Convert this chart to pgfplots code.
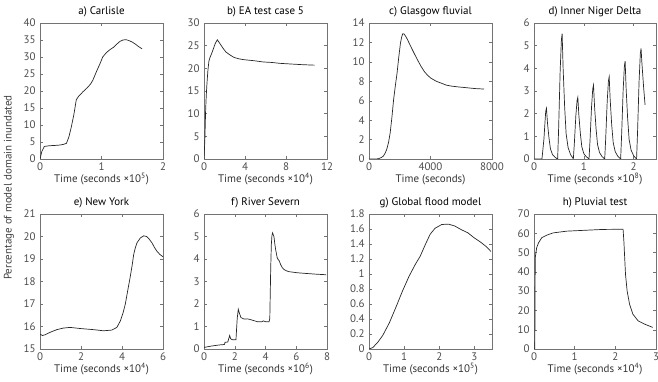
\documentclass[border=0pt]{standalone}
\usepackage{fontspec}
\setmainfont{PT Sans}
\usepackage{pgfplots}
\pgfplotsset{compat=1.18}
\pgfplotsset{
  panel/.style={
    scale only axis, width=123bp, anchor=south west,
    axis line style={black!55, line width=0.5bp},
    tick style={black!55, line width=0.4bp},
    major tick length=3bp,
    tick align=inside,
    xtick pos=both, ytick pos=both,
    xticklabel pos=bottom, yticklabel pos=left,
    scaled ticks=false,
    /pgf/number format/1000 sep={},
    /pgf/number format/assume math mode=true,
    tick label style={font=\fontsize{11}{13}\selectfont, text=black!70},
    xticklabel style={anchor=base, yshift=-11.5bp},
    yticklabel style={xshift=-1bp},
    title style={font=\fontsize{11}{13}\selectfont, at={(0.5,1)}, anchor=base, yshift=3bp},
    xlabel style={font=\fontsize{11}{13}\selectfont, text=black!80, at={(0.5,0)}, anchor=base, yshift=-23.5bp},
    every axis plot post/.append style={black!85, line width=0.7bp, mark=none, solid},
  },
  toprow/.style={panel, height=136bp},
  botrow/.style={panel, height=135bp},
}
\begin{document}
\begin{tikzpicture}
\path[use as bounding box] (0,0) rectangle (658bp,382bp);
\node[rotate=90, font=\fontsize{11}{13}\selectfont, text=black!75] at (9bp,194.5bp) {Percentage of model domain inundated};

% a) Carlisle
\begin{axis}[toprow, at={(40bp,223bp)}, xmin=0, xmax=2, ymin=0, ymax=40,
  xtick={0,1,2}, ytick={0,5,...,40},
  title={a) Carlisle}, xlabel={Time (seconds ×10\textsuperscript{5})}]
\addplot coordinates {(0,0) (0.03,2.2) (0.07,3.7) (0.15,3.9) (0.25,4.0) (0.32,4.1) (0.38,4.3) (0.43,4.6) (0.47,6.5) (0.51,9.5) (0.55,13) (0.59,17.4) (0.63,18.5) (0.7,19.8) (0.76,20.8) (0.82,22) (0.86,23.2) (0.92,25.8) (0.97,27.8) (1.02,30) (1.08,31.3) (1.14,32.2) (1.2,32.9) (1.25,33.8) (1.3,34.6) (1.35,35.0) (1.4,35.1) (1.45,34.8) (1.5,34.4) (1.55,33.8) (1.6,33.1) (1.66,32.4)};
\end{axis}

% b) EA test case 5
\begin{axis}[toprow, at={(204bp,223bp)}, xmin=0, xmax=12, ymin=0, ymax=30,
  xtick={0,4,8,12}, ytick={0,5,...,30},
  title={b) EA test case 5}, xlabel={Time (seconds ×10\textsuperscript{4})}]
\addplot coordinates {(0,0) (0.08,4) (0.16,10.8) (0.22,14) (0.29,16.7) (0.38,19.5) (0.48,21.6) (0.6,22.5) (0.7,23) (0.93,24.4) (1.1,25.5) (1.3,26.3) (1.45,25.8) (1.66,25.1) (1.9,24.3) (2.14,23.6) (2.5,23) (2.94,22.4) (3.4,22.1) (3.9,21.9) (4.8,21.7) (5.8,21.4) (6.6,21.3) (7.4,21.1) (8.5,20.95) (9.66,20.8) (10.8,20.7)};
\end{axis}

% c) Glasgow fluvial
\begin{axis}[toprow, at={(369bp,223bp)}, xmin=0, xmax=8000, ymin=0, ymax=14,
  xtick={0,4000,8000}, ytick={0,2,...,14},
  title={c) Glasgow fluvial}, xlabel={Time (seconds)}]
\addplot coordinates {(0,0) (300,0) (600,0.02) (800,0.15) (933,0.3) (1050,0.6) (1156,1.0) (1270,1.7) (1378,2.7) (1490,4.3) (1600,6.1) (1710,7.5) (1822,8.8) (1930,10.4) (2044,11.9) (2130,12.6) (2200,12.9) (2290,12.85) (2378,12.65) (2500,12.3) (2711,11.6) (2930,10.9) (3156,10.2) (3380,9.55) (3600,9.0) (3820,8.6) (4044,8.3) (4380,8.0) (4711,7.8) (5040,7.6) (5378,7.5) (5800,7.42) (6267,7.35) (6900,7.25) (7480,7.2)};
\end{axis}

% d) Inner Niger Delta
\begin{axis}[toprow, at={(534bp,223bp)}, width=122bp, xmin=0, xmax=2.45, ymin=0, ymax=6,
  xtick={0,1,2}, ytick={0,1,...,6},
  title={d) Inner Niger Delta}, xlabel={Time (seconds ×10\textsuperscript{8})}]
\addplot coordinates {(0,0) (0.16,0) (0.18,0.45) (0.2,0.9) (0.22,1.6) (0.235,2.1) (0.25,2.24) (0.27,1.61) (0.30,0.94) (0.33,0.45) (0.37,0.2) (0.42,0.08) (0.46,0.02)
 (0.475,0) (0.495,1.38) (0.525,3.87) (0.55,5.25) (0.565,5.53) (0.585,3.98) (0.615,2.32) (0.645,1.11) (0.685,0.5) (0.735,0.19) (0.775,0.06)
 (0.79,0) (0.81,0.68) (0.84,1.9) (0.865,2.58) (0.88,2.72) (0.9,1.96) (0.93,1.14) (0.96,0.54) (1.0,0.24) (1.05,0.1) (1.09,0.03)
 (1.105,0) (1.125,0.82) (1.155,2.28) (1.18,3.1) (1.195,3.26) (1.215,2.35) (1.245,1.37) (1.275,0.65) (1.315,0.29) (1.365,0.11) (1.405,0.03)
 (1.42,0) (1.44,0.91) (1.47,2.54) (1.495,3.45) (1.51,3.63) (1.53,2.61) (1.56,1.52) (1.59,0.73) (1.63,0.33) (1.68,0.13) (1.72,0.04)
 (1.74,0) (1.76,1.08) (1.79,3.02) (1.815,4.1) (1.83,4.32) (1.85,3.11) (1.88,1.81) (1.91,0.86) (1.95,0.39) (2.0,0.15) (2.04,0.04)
 (2.06,0) (2.08,1.22) (2.11,3.42) (2.135,4.64) (2.15,4.88) (2.165,4.3) (2.2,3.2) (2.23,2.39)};
\end{axis}

% e) New York
\begin{axis}[botrow, at={(40bp,33bp)}, xmin=0, xmax=6, ymin=15, ymax=21,
  xtick={0,2,4,6}, ytick={15,16,...,21},
  title={e) New York}, xlabel={Time (seconds ×10\textsuperscript{4})}]
\addplot coordinates {(0,15.66) (0.12,15.6) (0.24,15.63) (0.49,15.74) (0.82,15.86) (1.14,15.93) (1.47,15.96) (1.96,15.91) (2.61,15.86) (3.1,15.81) (3.5,15.84) (3.75,15.96) (3.92,16.25) (4.05,16.6) (4.16,16.99) (4.28,17.6) (4.4,18.2) (4.5,18.75) (4.57,19.2) (4.65,19.5) (4.73,19.72) (4.9,19.94) (5.06,20.03) (5.2,20.0) (5.33,19.88) (5.46,19.72) (5.58,19.52) (5.7,19.35) (5.85,19.2) (6.0,19.1)};
\end{axis}

% f) River Severn
\begin{axis}[botrow, at={(204bp,33bp)}, xmin=0, xmax=8, ymin=0, ymax=6,
  xtick={0,2,4,6,8}, ytick={0,1,...,6},
  title={f) River Severn}, xlabel={Time (seconds ×10\textsuperscript{6})}]
\addplot coordinates {(0,0.07) (0.47,0.13) (1.0,0.18) (1.33,0.2) (1.37,0.3) (1.55,0.31) (1.6,0.44) (1.67,0.6) (1.72,0.48) (1.76,0.44) (1.87,0.41) (2.08,0.41) (2.12,0.9) (2.16,1.35) (2.23,1.77) (2.3,1.6) (2.4,1.4) (2.6,1.33) (2.83,1.34) (3.05,1.3) (3.3,1.25) (3.48,1.21) (3.76,1.21) (3.86,1.25) (4.01,1.21) (4.23,1.21) (4.28,1.35) (4.31,2.5) (4.34,3.6) (4.38,4.65) (4.42,5.05) (4.46,5.16) (4.55,5.0) (4.6,4.7) (4.66,4.42) (4.76,4.06) (4.82,3.98) (4.87,3.95) (4.93,3.85) (4.98,3.76) (5.08,3.63) (5.19,3.54) (5.35,3.48) (5.5,3.44) (6.05,3.39) (6.6,3.36) (7.2,3.33) (7.95,3.3)};
\end{axis}

% g) Global flood model
\begin{axis}[botrow, at={(369bp,33bp)}, xmin=0, xmax=3.5, ymin=0, ymax=1.8,
  xtick={0,1,2,3}, ytick={0,0.2,0.4,0.6,0.8,1,1.2,1.4,1.6,1.8},
  title={g) Global flood model}, xlabel={Time (seconds ×10\textsuperscript{5})}]
\addplot coordinates {(0,0) (0.11,0.02) (0.25,0.09) (0.39,0.18) (0.58,0.35) (0.76,0.55) (0.95,0.77) (1.14,0.97) (1.32,1.13) (1.46,1.24) (1.6,1.39) (1.74,1.53) (1.88,1.61) (2.07,1.66) (2.26,1.665) (2.44,1.64) (2.63,1.59) (2.81,1.55) (3.0,1.48) (3.19,1.42) (3.35,1.36) (3.47,1.3)};
\end{axis}

% h) Pluvial test
\begin{axis}[botrow, at={(534bp,33bp)}, width=122bp, xmin=0, xmax=3, ymin=0, ymax=70,
  xtick={0,1,2,3}, ytick={0,10,...,70},
  title={h) Pluvial test}, xlabel={Time (seconds ×10\textsuperscript{4})}]
\addplot coordinates {(0,0) (0.02,0) (0.03,47.3) (0.065,52.5) (0.11,55) (0.19,57.7) (0.31,59) (0.47,60.2) (0.8,61.1) (1.29,61.6) (1.7,62) (2.19,62.1) (2.21,55.9) (2.23,47.3) (2.25,38.7) (2.29,30.1) (2.35,23.2) (2.43,18.1) (2.56,14.6) (2.72,12.9) (2.92,11.2)};
\end{axis}
\end{tikzpicture}
\end{document}
